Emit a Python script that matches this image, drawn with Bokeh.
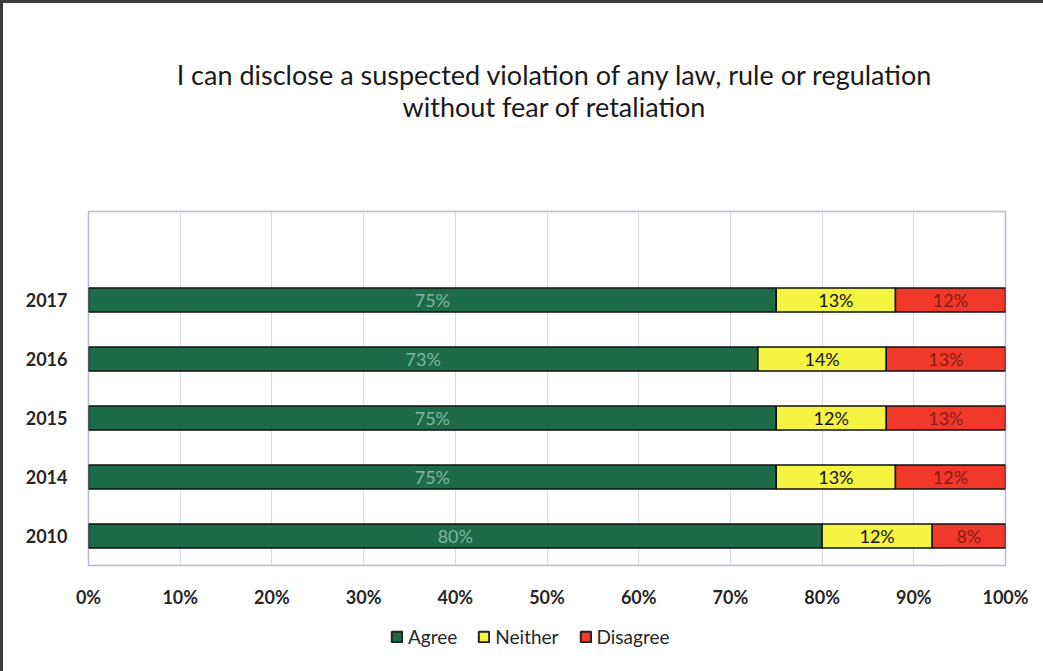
from bokeh.plotting import figure
from bokeh.layouts import column
from bokeh.models import (ColumnDataSource, FixedTicker, Legend, LegendItem, Div,
                          Range1d, CustomJSTickFormatter)
from bokeh.core.properties import value
from bokeh.embed import file_html
from bokeh.resources import INLINE

years = ["2010", "2014", "2015", "2016", "2017"]
agree = [80, 75, 75, 73, 75]
neither = [12, 13, 12, 14, 13]
disagree = [8, 12, 13, 13, 12]
x_ticks = [0, 10, 20, 30, 40, 50, 60, 70, 80, 90, 100]
title_lines = ["I can disclose a suspected violation of any law, rule or regulation",
               "without fear of retaliation"]
series_names = ["Agree", "Neither", "Disagree"]

FONT = "Lato"
GREEN = "#1e6b4a"
YELLOW = "#f6f443"
RED = "#f1392b"
COLORS = [GREEN, YELLOW, RED]

pos = list(range(len(years)))
n_start = agree
n_end = [a + n for a, n in zip(agree, neither)]
d_end = [a + n + d for a, n, d in zip(agree, neither, disagree)]

src = ColumnDataSource(dict(
    y=pos, a0=[0] * len(pos), a1=agree, n0=n_start, n1=n_end, d0=n_end, d1=d_end,
    ac=[a / 2 for a in agree],
    nc=[s + n / 2 for s, n in zip(n_start, neither)],
    dc=[s + d / 2 for s, d in zip(n_end, disagree)],
    al=[f"{v}%" for v in agree], nl=[f"{v}%" for v in neither], dl=[f"{v}%" for v in disagree],
))

W = 1040

title_div = Div(
    text=("<div style='text-align:center;font-family:Lato;font-size:27px;line-height:32px;"
          "color:#1a1a1a;padding-top:56px;padding-left:62px;width:1040px;"
          "box-sizing:border-box;'>"
          + "<br>".join(title_lines) + "</div>"),
    width=W, height=120, margin=0)

p = figure(width=W, height=490, output_backend="svg", toolbar_location=None,
           x_range=Range1d(0, 100), y_range=Range1d(-0.5, len(years) + 0.5),
           min_border_left=85, min_border_right=38, min_border_top=88, min_border_bottom=48)
p.background_fill_color = "white"
p.border_fill_color = "white"
p.outline_line_color = "#b6b9d8"
p.outline_line_width = 1.5

h = 0.41
p.hbar(y="y", left="a0", right="a1", height=h, source=src, fill_color=GREEN,
       line_color="#111111", line_width=1.5)
p.hbar(y="y", left="n0", right="n1", height=h, source=src, fill_color=YELLOW,
       line_color="#111111", line_width=1.5)
p.hbar(y="y", left="d0", right="d1", height=h, source=src, fill_color=RED,
       line_color="#111111", line_width=1.5)

p.text(x="ac", y="y", text="al", source=src, text_align="center", text_baseline="middle",
       text_color="#82b6a4", text_font=value(FONT), text_font_size="18px")
p.text(x="nc", y="y", text="nl", source=src, text_align="center", text_baseline="middle",
       text_color="#111111", text_font=value(FONT), text_font_size="18px")
p.text(x="dc", y="y", text="dl", source=src, text_align="center", text_baseline="middle",
       text_color="#8a1c18", text_font=value(FONT), text_font_size="18px")

# axes
p.xaxis.ticker = FixedTicker(ticks=x_ticks)
p.xaxis.formatter = CustomJSTickFormatter(code="return tick + '%';")
p.yaxis.ticker = FixedTicker(ticks=pos)
p.yaxis.major_label_overrides = {i: y for i, y in enumerate(years)}
for ax in (p.xaxis[0], p.yaxis[0]):
    ax.axis_line_color = None
    ax.major_tick_line_color = None
    ax.minor_tick_line_color = None
    ax.major_label_text_font = FONT
    ax.major_label_text_font_size = "18px"
    ax.major_label_text_font_style = "bold"
    ax.major_label_text_color = "#262626"
p.xaxis.major_label_standoff = 14
p.yaxis.major_label_standoff = 15

p.xgrid.ticker = FixedTicker(ticks=x_ticks)
p.xgrid.grid_line_color = "#d8d9e8"
p.xgrid.grid_line_width = 1
p.ygrid.grid_line_color = None

# legend strip (swatch renderers carry no drawable data)
nan = float("nan")
lg = figure(width=W, height=58, output_backend="svg", toolbar_location=None,
            x_range=Range1d(0, 1), y_range=Range1d(0, 1),
            min_border_left=0, min_border_right=0, min_border_top=0, min_border_bottom=0)
lg.axis.visible = False
lg.grid.visible = False
lg.outline_line_color = None
lg.background_fill_color = "white"
lg.border_fill_color = "white"
items = []
for name, col in zip(series_names, COLORS):
    r = lg.hbar(y=[nan], left=[nan], right=[nan], height=0.5, fill_color=col,
                line_color="#222222", line_width=2)
    items.append(LegendItem(label=name, renderers=[r]))
legend = Legend(items=items, orientation="horizontal", location=(302, 23),
                label_text_font=FONT, label_text_font_size="19px", label_text_color="#262626",
                glyph_width=13, glyph_height=13, spacing=20, label_standoff=5,
                border_line_color=None, background_fill_alpha=0, margin=0, padding=0)
lg.add_layout(legend, "center")

layout = column(title_div, p, lg, spacing=0)
layout.styles = {"border-top": "3px solid #3c3c3c", "border-left": "3px solid #3c3c3c"}

open("out.html", "w").write(file_html(layout, INLINE))
